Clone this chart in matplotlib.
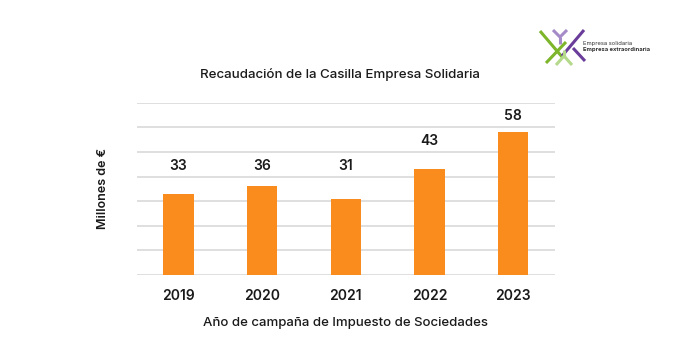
import matplotlib
matplotlib.use('Agg')
import matplotlib.pyplot as plt
import numpy as np

plt.rcParams['font.family'] = ['Inter', 'DejaVu Sans']

years = ['2019', '2020', '2021', '2022', '2023']
recaudacion = [33, 36, 31, 43, 58]
# altura a la que aparecen las etiquetas en el original
label_y = [44.3, 44.3, 44.3, 54.5, 64.6]

bar_color = '#F98C1D'
grid_color = '#D9D9D9'
txt_color = '#1A1A1A'

fig = plt.figure(figsize=(6.76, 3.59), dpi=100)
ax = fig.add_axes([136.7 / 676, 1 - 275 / 359, (555 - 136.7) / 676, (275 - 102.7) / 359])

x = np.arange(len(years))
ax.bar(x, recaudacion, width=0.36, color=bar_color, zorder=3)
for xi, v, ly in zip(x, recaudacion, label_y):
    ax.text(xi, ly, str(v), ha='center', va='center', fontsize=10, fontweight='semibold', color=txt_color)

ax.set_xlim(-0.5, 4.5)
ax.set_ylim(0, 70)
ax.set_yticks(np.arange(0, 71, 10))
ax.yaxis.grid(True, color=grid_color, linewidth=1.2, zorder=0)
ax.tick_params(axis='y', length=0, labelleft=False)
ax.tick_params(axis='x', length=0, pad=10)
ax.set_xticks(x)
ax.set_xticklabels(years, fontsize=10, fontweight='semibold', color=txt_color)
for s in ax.spines.values():
    s.set_visible(False)

ax.set_xlabel('Año de campaña de Impuesto de Sociedades', fontsize=9.5, fontweight='medium',
              color=txt_color, labelpad=10)
ax.set_ylabel('Millones de €', fontsize=9, fontweight='semibold', color=txt_color, labelpad=20)
fig.text(340 / 676, 1 - 75 / 359, 'Recaudación de la Casilla Empresa Solidaria', ha='center', va='center',
         fontsize=9.6, fontweight='medium', color=txt_color)

# logo
lg = fig.add_axes([0, 0, 1, 1], zorder=5)
lg.set_xlim(0, 676)
lg.set_ylim(359, 0)
lg.axis('off')
green = '#7DB52B'
lgreen = '#B5D98A'
purple = '#6A3D9A'
lpurple = '#A58BC8'
lg.plot([540, 563], [31, 58], color=green, lw=2.2, solid_capstyle='butt')
lg.plot([546, 566], [63, 42], color=green, lw=2.2, solid_capstyle='butt')
lg.plot([553, 560, 567], [30, 37, 30], color=lpurple, lw=2.2, solid_capstyle='butt')
lg.plot([560, 560], [37, 44], color=lpurple, lw=2.2, solid_capstyle='butt')
lg.plot([584, 562], [30, 56], color=purple, lw=2.2, solid_capstyle='butt')
lg.plot([573, 585], [48, 61], color=purple, lw=2.2, solid_capstyle='butt')
lg.plot([556, 564, 572], [65, 56, 65], color=lgreen, lw=2.2, solid_capstyle='butt')
lg.plot([564, 564], [56, 50], color=lgreen, lw=2.2, solid_capstyle='butt')
lg.text(583, 43, 'Empresa solidaria', fontsize=4.2, color='#333333', va='center')
lg.text(583, 50, 'Empresa extraordinaria', fontsize=4.2, fontweight='bold', color='#333333', va='center')

fig.savefig('out.png', dpi=100)
